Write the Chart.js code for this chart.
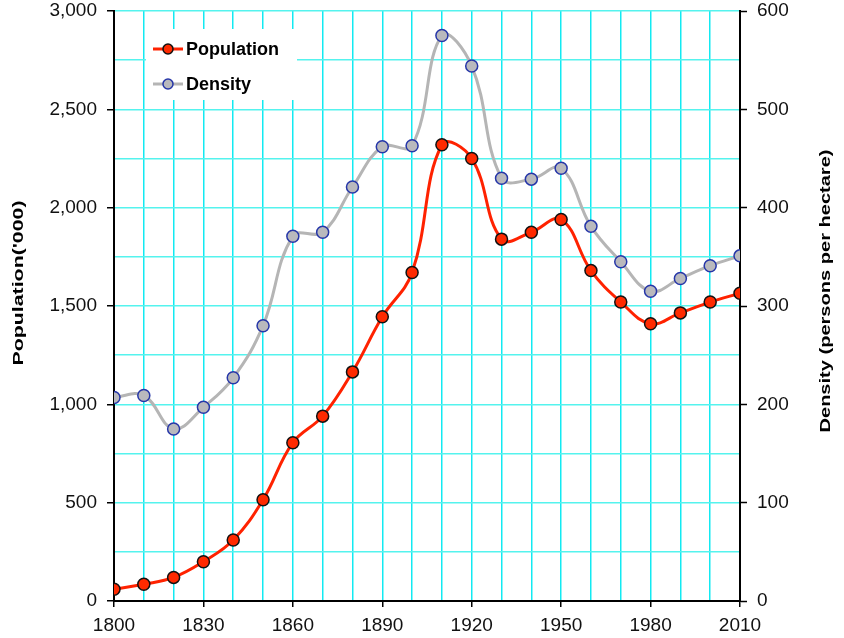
<!DOCTYPE html>
<html>
<head>
<meta charset="utf-8">
<script src="https://cdn.jsdelivr.net/npm/chart.js@4/dist/chart.umd.min.js"></script>
<style>
  html, body { margin: 0; padding: 0; background: #ffffff; }
  #wrap { width: 844px; height: 638px; }
</style>
</head>
<body>
<div id="wrap"><canvas id="c" width="844" height="638"></canvas></div>
<script>
// ---- data ----
const years = [1800, 1810, 1820, 1830, 1840, 1850, 1860, 1870, 1880, 1890, 1900,
               1910, 1920, 1930, 1940, 1950, 1960, 1970, 1980, 1990, 2000, 2010];
const population = [60, 85, 120, 200, 310, 515, 805, 940, 1165, 1445, 1670,
                    2320, 2250, 1840, 1875, 1940, 1680, 1520, 1410, 1465, 1520, 1565];
const density = [207, 209, 175, 197, 227, 280, 371, 375, 421, 462, 463,
                 575, 544, 430, 429, 440, 381, 345, 315, 328, 341, 351];
const seriesNames = ['Population', 'Density'];
const leftTitle = "Population('000)";
const rightTitle = 'Density (persons per hectare)';
const xLabelStep = 30;      // years between x tick labels
const leftLabelStep = 500;  // population between left tick labels

const FONT = "'Liberation Sans', Arial, Helvetica, sans-serif";
const GRID_V = '#12eaf2';
const GRID_H = '#55f3ee';

const whiteBg = {
  id: 'whiteBg',
  beforeDraw(chart) {
    const ctx = chart.ctx;
    ctx.save();
    ctx.fillStyle = '#ffffff';
    ctx.fillRect(0, 0, chart.width, chart.height);
    ctx.restore();
  }
};

// legend drawn inside the plot area, on top of the grid
const insideLegend = {
  id: 'insideLegend',
  beforeDatasetsDraw(chart) {
    const ctx = chart.ctx;
    const a = chart.chartArea;
    const x0 = a.left + 32, y0 = a.top + 18;
    ctx.save();
    ctx.fillStyle = '#ffffff';
    ctx.fillRect(x0, y0, 151, 71);
    chart.data.datasets.forEach((ds, i) => {
      const cy = y0 + 20 + i * 35;
      const lx = x0 + 7;
      ctx.strokeStyle = ds.borderColor;
      ctx.lineWidth = 3;
      ctx.beginPath();
      ctx.moveTo(lx, cy);
      ctx.lineTo(lx + 30, cy);
      ctx.stroke();
      ctx.beginPath();
      ctx.arc(lx + 15, cy, 5, 0, Math.PI * 2);
      ctx.fillStyle = ds.pointBackgroundColor;
      ctx.fill();
      ctx.lineWidth = 1.5;
      ctx.strokeStyle = ds.pointBorderColor;
      ctx.stroke();
      ctx.fillStyle = '#000000';
      ctx.font = 'bold 18px ' + FONT;
      ctx.textBaseline = 'middle';
      ctx.textAlign = 'left';
      ctx.fillText(ds.label, lx + 33, cy + 1);
    });
    ctx.restore();
  }
};

// rotated axis titles, stretched along their length like the reference
const axisTitles = {
  id: 'axisTitles',
  afterDraw(chart) {
    const ctx = chart.ctx;
    const a = chart.chartArea;
    const items = [
      { text: chart.options.scales.y.title.text, x: 19, y: a.top + 272, len: 165 },
      { text: chart.options.scales.y2.title.text, x: 826, y: a.top + 280, len: 283 }
    ];
    ctx.save();
    ctx.font = 'bold 15px ' + FONT;
    ctx.fillStyle = '#000000';
    ctx.textAlign = 'center';
    ctx.textBaseline = 'middle';
    items.forEach(it => {
      const w = ctx.measureText(it.text).width;
      ctx.save();
      ctx.translate(it.x, it.y);
      ctx.rotate(-Math.PI / 2);
      ctx.scale(it.len / w, 1);
      ctx.fillText(it.text, 0, 0);
      ctx.restore();
    });
    ctx.restore();
  }
};

const popPoints = years.map((yr, i) => ({ x: yr, y: population[i] }));
const denPoints = years.map((yr, i) => ({ x: yr, y: density[i] }));

const tickFont = { family: FONT, size: 19 };

function fitVertical(width) {
  return s => { s.width = width; s.paddingTop = 0; s.paddingBottom = 0; };
}

new Chart(document.getElementById('c'), {
  type: 'line',
  data: {
    datasets: [
      {
        label: seriesNames[0],
        data: popPoints,
        yAxisID: 'y',
        borderColor: '#ff2200',
        borderWidth: 3,
        tension: 0.4,
        pointRadius: 6,
        pointBackgroundColor: '#ff2a00',
        pointBorderColor: '#111111',
        pointBorderWidth: 1.5,
        order: 1
      },
      {
        label: seriesNames[1],
        data: denPoints,
        yAxisID: 'y2',
        borderColor: '#b5b5b5',
        borderWidth: 3,
        tension: 0.4,
        pointRadius: 6,
        pointBackgroundColor: '#b9b9bd',
        pointBorderColor: '#2636a8',
        pointBorderWidth: 1.5,
        order: 2
      }
    ]
  },
  options: {
    responsive: false,
    devicePixelRatio: 1,
    animation: false,
    layout: { padding: { top: 11, left: 0, right: 0, bottom: 0 } },
    plugins: {
      legend: { display: false },
      tooltip: { enabled: false }
    },
    scales: {
      x: {
        type: 'linear',
        min: years[0],
        max: years[years.length - 1],
        afterFit(s) { s.height = 37; s.paddingLeft = 0; s.paddingRight = 0; },
        ticks: {
          stepSize: 10,
          autoSkip: false,
          maxRotation: 0,
          padding: 7,
          color: '#111111',
          font: tickFont,
          callback: v => ((v - years[0]) % xLabelStep === 0 ? String(v) : '')
        },
        grid: {
          color: GRID_V,
          lineWidth: 1.5,
          tickLength: 6,
          tickWidth: 1.5,
          tickColor: c => (c.tick && (c.tick.value - years[0]) % xLabelStep === 0 ? '#000000' : 'rgba(0,0,0,0)')
        },
        border: { display: true, color: '#000000', width: 2 }
      },
      y: {
        type: 'linear',
        position: 'left',
        min: 0,
        max: 3000,
        afterFit: fitVertical(114),
        title: { display: false, text: leftTitle },
        ticks: {
          stepSize: 250,
          autoSkip: false,
          padding: 10,
          color: '#111111',
          font: tickFont,
          callback: v => (v % leftLabelStep === 0 ? v.toLocaleString('en-US') : '')
        },
        grid: {
          color: GRID_H,
          lineWidth: 1.5,
          tickLength: 7,
          tickWidth: 1.5,
          tickColor: c => (c.tick && c.tick.value % leftLabelStep === 0 ? '#000000' : 'rgba(0,0,0,0)')
        },
        border: { display: true, color: '#000000', width: 2 }
      },
      y2: {
        type: 'linear',
        position: 'right',
        min: 0,
        max: 600,
        afterFit: fitVertical(104),
        title: { display: false, text: rightTitle },
        ticks: {
          stepSize: 100,
          autoSkip: false,
          padding: 10,
          color: '#111111',
          font: tickFont
        },
        grid: {
          drawOnChartArea: false,
          tickLength: 7,
          tickWidth: 1.5,
          tickColor: '#000000'
        },
        border: { display: true, color: '#000000', width: 2 }
      }
    }
  },
  plugins: [whiteBg, insideLegend, axisTitles]
});
</script>
</body>
</html>
